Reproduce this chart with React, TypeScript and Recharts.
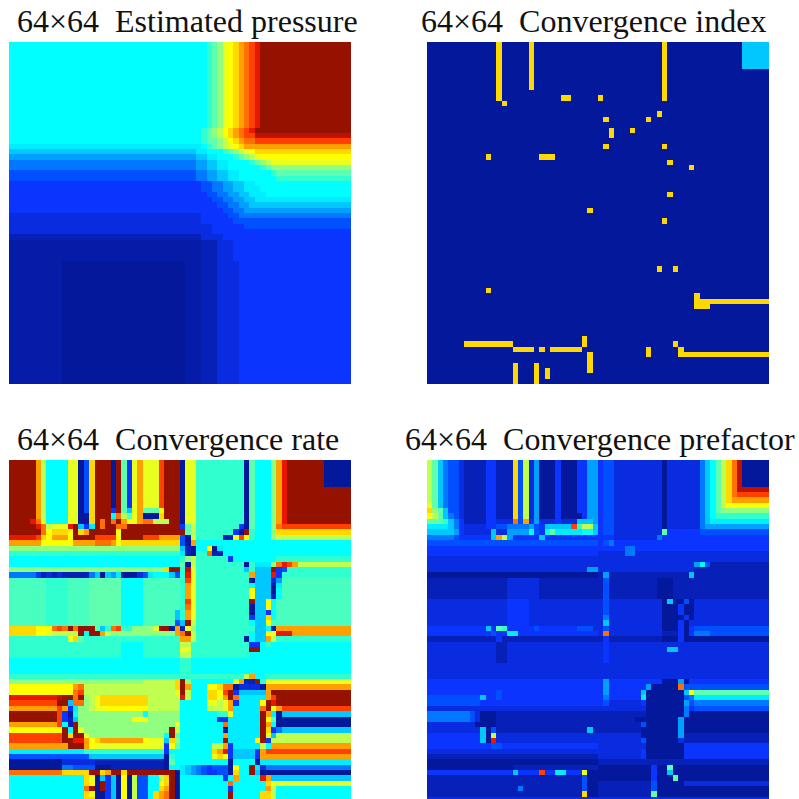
import { Scatter, ScatterChart, XAxis, YAxis } from "recharts";

// colour levels of the jet map, a = lowest, w = highest (x and y are in-between shades)
const levels: Record<string, string> = {
  a: "#03189a", x: "#041ca8", b: "#0620b8", c: "#0a2ce0", d: "#0c34ff", e: "#0050ff", f: "#0078ff",
  g: "#00a0ff", h: "#00c8ff", i: "#00ecff", j: "#00ffff", k: "#30ffd0", y: "#48ffc0", l: "#60ffb0",
  m: "#90ff80", n: "#c0ff50", o: "#e8ff20", p: "#ffff00", q: "#ffd800", r: "#ffa000",
  s: "#ff7000", t: "#ff4000", u: "#e81800", v: "#c01000", w: "#961200",
};

// rows are run lengths: "n|" repeats the row, "/" splits left and right half
const pressureRows = [
  "16|j37 k l m o p q r s t u w17",
  "j36 k l m n p q r s t u w18",
  "j36 k l m n p q r s t t v18",
  "j36 k l l m n p q r s s t18",
  "i36 j k l m n o p q r r21",
  "h35 i2 j3 k l m n o p q18",
  "g35 h2 i2 j3 k l m n o p17",
  "f35 g2 h2 i2 j4 k l m n o15",
  "f35 g2 h2 i2 j6 k l m15",
  "e35 f2 g2 h2 i2 j6 k l14",
  "e35 f2 g2 h2 i2 j7 k14",
  "d36 e2 f2 g2 h2 i2 j18",
  "d36 e2 f2 g2 h2 i3 j17",
  "d37 e2 f2 g2 h2 i3 j16",
  "d38 e2 f2 g2 h2 i18",
  "d39 e2 f2 g2 h19",
  "d40 e2 f2 g20",
  "c36 d5 e2 f21",
  "c36 d6 e22",
  "c38 d6 e20",
  "c38 d26",
  "b36 c4 d24",
  "4|x36 b3 c3 d22",
  "23|x10 a23 x3 b3 c4 d21",
];

const indexRows = [
  "5|a13 q a5 q a24 q a14 h5",
  "4|a13 q a5 q a24 q a19",
  "a13 q a30 q a19",
  "a13 q a11 q2 a5 q a11 q a19",
  "a14 q a49",
  "a64",
  "a43 q a20",
  "a33 q a7 q a22",
  "a64",
  "a34 q a3 q a25",
  "a34 q a29",
  "a64",
  "a33 q a10 q a19",
  "a64",
  "a11 q a9 q3 a40",
  "a45 q a18",
  "a49 q a14",
  "4|a64",
  "a45 q a18",
  "2|a64",
  "a30 q a33",
  "a64",
  "a44 q a19",
  "8|a64",
  "a43 q a2 q a17",
  "3|a64",
  "a11 q a52",
  "a50 q a13",
  "a50 q14",
  "a50 q3 a11",
  "5|a64",
  "a29 q a34",
  "a7 q9 a13 q a16 q a17",
  "a16 q4 a q a q6 a12 q a5 q a16",
  "a30 q a10 q a5 q17",
  "a30 q a33",
  "a16 q a3 q a9 q a33",
  "a16 q a3 q a q a7 q a33",
  "a16 q a3 q a q a41",
  "a16 q a3 q a43",
];

const rateRows = [
  "5|w5 r n j4 o2 a e q w3 a w l d o r o3 t w3/a o2 k9 a l j3 m r u w7 a5",
  "4|w5 r n j4 o2 a e q w3 a w l d o r o3 t w3/a o2 k9 a l j3 m r u w12",
  "w5 r n j4 o2 a e q w3 d w l h o r l3 p w3/a o2 k9 a l j3 m r u w12",
  "w5 r n j4 o2 a a q w3 j s n l o r a3 q w3/a o2 k9 a l j3 m r u w12",
  "w4 u s o j4 o2 a2 q w s w s w r p o r s2 n3 w2/a o2 k9 a l j3 m r u w12",
  "w5 u s n o3 u w h d i w s w2 s2 w10/d l n k8 d a l j3 m s t13",
  "w6 s p q3 p w q r w5 p w11/w l n k7 d a w k j3 m q14",
  "u5 t q p r3 p w4 t4 p w4 t3 r4/e a n k5 b2 p t p k j3 m n14",
  "r6 p6 r4 s3 r p q11/e a r j29",
  "m32/h b a j2 p a i j24",
  "k32/i b a k2 s b2 j24",
  "j32/k m n k6 d j8 k14",
  "j32/l a n k9 a k i3 m s u t r n10",
  "m29 q w2/k v o k9 h k h3 w d e k12",
  "f5 d b c b c b5 f h a h g i a3 c e i j3 h e/k u o k10 r h3 u d k13",
  "y7 k4 y4 l6 j4 y7/k t o k10 a h3 c g y13",
  "y7 k4 y4 l6 j4 y7/k r o k10 j h3 a i y13",
  "y7 k4 y4 l6 j4 y7/k r o k10 p h3 a j y13",
  "y7 k4 y4 l6 j4 y7/k r o k10 p h3 b j y13",
  "y7 k4 y4 l6 j4 y7/k t o k10 w h2 p j y14",
  "y7 k4 y4 l6 j4 y7/k s o k10 a h2 p j y14",
  "y7 k4 y4 l6 j4 y6 h/k r o k10 a h2 d j y14",
  "y7 k4 y4 l6 j4 y6 h/k r o k10 d h2 q j y14",
  "y7 k4 y4 l6 j4 y6 e/h w n k10 j h2 p y15",
  "q5 p3 s t s w s w3 l h k s t k2 m4 o w2 a r/b o m k10 k h2 j b r14",
  "q5 p2 o n5 w j w2 r n m12 r/s w n k10 j h2 p o u3 r11",
  "k11 o q l k18/r2 n k9 a j h2 r n k14",
  "k21 j4 k7/n2 k11 d2 j k j15",
  "k21 j4 k7/o2 k11 w2 j17",
  "k21 j4 k7/n2 k11 j19",
  "3|j32/k2 j30",
  "k32/k12 n r j2 k16",
  "m25 n6 q/w m j8 o r b2 w k o16",
  "p12 r s n17 q/w r j3 p2 q s2 a c4 a r16",
  "p12 s t n17 o/w n j3 q2 p t w d h5 r w15",
  "u9 v w2 s w m n o q9 n6/u n j3 q2 o r w s i5 r t w14",
  "t9 w2 h s2 m n o q9 n6/j5 o2 n o r d i4 p w u w14",
  "r9 t r d i m2 n o2 p8 n6/j5 n3 o r i5 s w o r t13",
  "w9 t d a j m12 j m6/j7 k2 o i5 w r i a h13",
  "w9 t d b h m10 p3 m6 q/j7 d2 i6 w p l a14",
  "r9 t j b w m12 m6 o/j8 s i6 w r j a14",
  "p10 w j w o m16 w n/j8 a i6 w q d f h13",
  "t10 w q w2 o m14 j w l/j8 r i6 w o h n14",
  "t10 w2 u2 r p q r8 p o3 h q m/j8 w i5 p w d n15",
  "r11 w3 r p o13 d p l/j6 n2 r d i5 n j r15",
  "i14 k15 d j2/j6 q r u d h4 d r t16",
  "e15 h14 a k j/j6 o q p d h4 d r17",
  "a10 c6 b13 a l j/j9 a j4 a i17",
  "a10 f2 e4 a3 b10 a j2/i h g f e d e3 a p j2 w i c f16",
  "s10 q5 w2 q r w2 q w9 a/i h g f e d2 e2 a q j2 w h a17",
  "j14 q o a h d h a p a n e2 j2 n q w a/j8 d j r j4 u r h15",
  "j14 q p a w d h a p a n e2 j2 p q w a/j9 s j6 q o15",
  "j14 s w a w d h a p a n e2 j2 q r w a/j9 d j6 r n j14",
  "j14 q o a2 d h a p a n e2 j q r s w a/j9 w j5 q2 n j14",
  "j14 q2 a2 d h a p a n e2 j q r s w a/j9 w j5 q2 n j14",
];

const prefactorRows = [
  "5|n l h f e2 c b4 d2 b3 q e n c g a3 d a3 d2 g2/d e2 c9 a c6 f h j l n q s v a5",
  "n l h f e2 c b4 d2 b3 q e n c g a3 d a3 d2 g2/d e2 c9 a c6 f h j l n q s v6",
  "n l h f e2 c b4 d2 b3 q e n c g a3 d a3 d2 g2/d e2 c9 a c6 f h j l n q s t6",
  "n l h f e2 c b4 d2 b3 q e n c g a3 d a3 d2 g2/d e2 c9 a c6 f h j l n q r7",
  "o l h f e2 c b4 d2 b3 q e n c g a3 d a3 d2 g2/d e2 c9 a c6 f h j l n p8",
  "q m l h e2 c b4 d2 b3 q e n c g a3 d a3 d2 g2/d e2 c9 a c6 f h j l m9",
  "p n l h f e c b4 d2 b3 q e n c g a3 d a4 d g2/d e2 c9 a c6 f h j k10",
  "l3 k h f d b4 d2 c3 s e r d g c3 d c3 h3 g/d e2 c9 a c6 f h i11",
  "i4 h f d c4 d2 e2 f3 f g e d h5 t k n2 h/d e2 c9 a c6 f g12",
  "h5 g d c5 h c2 g4 j e d j l i5 j2 h/d e2 c9 l d6 e13",
  "f5 e d6 h r n g d5 h d10/d3 c8 f d20",
  "e32/d e f d29",
  "d32/d5 f2 d25",
  "d32/c5 f2 c25",
  "c32/c32",
  "c32/c18 g j e b11",
  "c30 g2/c18 b14",
  "a32/b g b15 h b14",
  "4|b15 c6 b11/b e b9 a3 b4 b14",
  "c15 d4 c13/c e c10 a h a2 e a c14",
  "2|c15 d4 c13/c e c10 a3 d a2 c14",
  "c15 d4 c13/c f c10 a4 d a c14",
  "c15 d4 c13/c h c10 a3 d a c14",
  "d11 h d l k d5 e d7 e3 c/c e c10 a3 d a d e14",
  "d12 e d2 i2 d15/c s c10 b3 d a d f3 e11",
  "b13 d b18/b d b10 a3 d a2 a14",
  "c13 b2 c17/c d c30",
  "c13 b2 c17/c d c11 h2 c17",
  "2|c13 b2 c17/c d c30",
  "3|c32/c32",
  "d32/d g d10 a3 g a d15",
  "d32/d g d7 g a5 s e16",
  "d13 e d18/d g d6 h a7 h p l14",
  "e10 h d2 e d18/d f d6 i a7 e f i14",
  "e10 d22/d e c6 d a7 g e f14",
  "c32/c9 a7 f d e14",
  "f8 e c a3 b19/b9 a7 f a15",
  "f8 e c a3 b19/b7 a8 g a16",
  "c9 a4 b19/b8 e a6 g a16",
  "c10 h a e b17 h b/b8 a7 g a16",
  "d10 h a n c19/c8 a7 g b16",
  "d10 h a u c19/c8 e a6 c b16",
  "d12 e2 d18/c9 a6 a d16",
  "c32/c8 d a7 d16",
  "b32/c8 d a7 d16",
  "a32/b32",
  "a16 b16/a10 d a2 l a18",
  "d16 h d4 t d2 i2 d3 o a2/a10 d a2 h a18",
  "b29 e a2/a10 d a3 l a17",
  "b29 e a2/b10 e a5 c16",
  "b17 f b11 e a2/b10 e a5 a16",
  "b29 q a2/b10 l a21",
  "c32/c10 d c21",
];

const panels = [
  { title: "64×64  Estimated pressure", rows: pressureRows, titleX: 17, x: 9, y: 42 },
  { title: "64×64  Convergence index", rows: indexRows, titleX: 421, x: 427, y: 42 },
  { title: "64×64  Convergence rate", rows: rateRows, titleX: 17, x: 9, y: 460 },
  { title: "64×64  Convergence prefactor", rows: prefactorRows, titleX: 405, x: 427, y: 460 },
];

const SIZE = 342;
const GRID = 64;
const CELL = SIZE / GRID;

function decodeRun(part: string, width: number) {
  const out: string[] = [];
  for (const tok of part.trim().split(/\s+/)) {
    const n = tok.length > 1 ? parseInt(tok.slice(1), 10) : 1;
    for (let i = 0; i < n; i++) out.push(tok[0]);
  }
  while (out.length < width) out.push(out[out.length - 1]);
  return out.slice(0, width);
}

function decodeRows(rows: string[]) {
  const cells: { x: number; y: number; level: string }[] = [];
  let y = 0;
  for (const row of rows) {
    const bar = row.indexOf("|");
    const count = bar > 0 ? parseInt(row.slice(0, bar), 10) : 1;
    const parts = row.slice(bar + 1).split("/");
    const vals = parts.flatMap((p) => decodeRun(p, GRID / parts.length));
    for (let r = 0; r < count; r++) {
      vals.forEach((level, x) => cells.push({ x: x + 0.5, y: y + 0.5, level }));
      y++;
    }
  }
  return cells;
}

function CellRect(props: any) {
  const { cx, cy, payload } = props;
  const x0 = Math.round(cx - CELL / 2);
  const y0 = Math.round(cy - CELL / 2);
  return (
    <rect
      x={x0}
      y={y0}
      width={Math.round(cx + CELL / 2) - x0}
      height={Math.round(cy + CELL / 2) - y0}
      fill={levels[payload.level]}
      shapeRendering="crispEdges"
    />
  );
}

function Panel({ title, rows, titleX, x, y }: (typeof panels)[number]) {
  return (
    <>
      <div
        style={{
          position: "absolute",
          left: titleX,
          top: y - 42,
          fontFamily: "'Liberation Serif', serif",
          fontSize: 32,
          lineHeight: "42px",
          whiteSpace: "pre",
          color: "#111",
        }}
      >
        {title}
      </div>
      <div style={{ position: "absolute", left: x, top: y, width: SIZE, height: SIZE, overflow: "hidden" }}>
        <div style={{ filter: "blur(0.7px)", width: SIZE, height: SIZE }}>
          <ScatterChart width={SIZE} height={SIZE} margin={{ top: 0, right: 0, bottom: 0, left: 0 }}>
            <XAxis type="number" dataKey="x" domain={[0, GRID]} hide />
            <YAxis type="number" dataKey="y" domain={[0, GRID]} reversed hide />
            <Scatter data={decodeRows(rows)} shape={CellRect} isAnimationActive={false} />
          </ScatterChart>
        </div>
      </div>
    </>
  );
}

export default function App() {
  return (
    <div style={{ position: "fixed", left: 0, top: 0, width: 799, height: 799, overflow: "hidden", background: "#fff" }}>
      {panels.map((p) => (
        <Panel key={p.title} {...p} />
      ))}
    </div>
  );
}
